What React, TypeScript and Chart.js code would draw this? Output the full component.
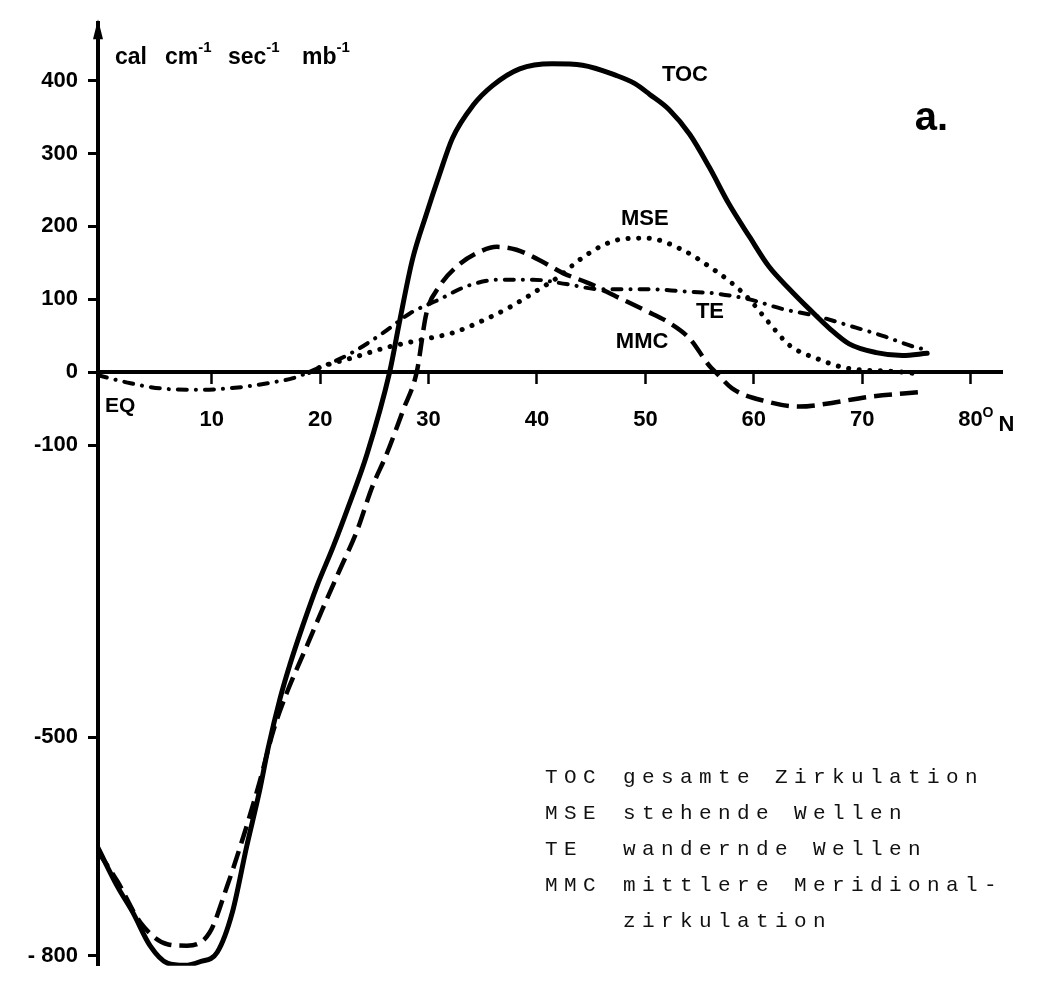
import React, { useEffect, useRef } from 'react';
import { Chart, registerables } from 'chart.js';

Chart.register(...registerables);

// ---- axis ticks ----
const xTickValues = [0, 10, 20, 30, 40, 50, 60, 70, 80];
const xTickLabels = ['', '10', '20', '30', '40', '50', '60', '70', '80'];
const yTickValues = [400, 300, 200, 100, 0, -100, -500, -800];
const yTickLabels = ['400', '300', '200', '100', '0', '-100', '-500', '- 800'];

// ---- series (latitude °N, flux) ----
const tocLat = [-0.5, 1.3, 2.7, 4.3, 5.9, 7.5, 8.9, 10.5, 11.9, 13.2, 14.4, 15.2, 16.3, 17.2, 18.4, 19.7, 21.2, 22.7, 24.3, 26.4, 27.3, 28.5, 29.8, 31.0, 32.2, 34.1, 35.9, 38.4, 41.4, 44.2, 47.3, 49.0, 50.4, 52.2, 54.1, 55.9, 57.7, 59.6, 61.4, 63.3, 65.1, 67.0, 68.8, 71.3, 73.7, 76.0];
const tocVal = [-652, -705, -740, -786, -810, -813, -808, -795, -740, -651, -574, -515, -447, -401, -347, -293, -239, -180, -113, 0, 68, 154, 217, 271, 321, 366, 393, 416, 423, 421, 407, 396, 381, 360, 326, 281, 231, 186, 145, 114, 87, 60, 39, 27, 23, 26];

const mmcLat = [-0.5, 1.3, 3.4, 5.9, 7.7, 9.8, 11.4, 12.9, 14.4, 15.7, 16.9, 18.8, 20.2, 21.8, 23.4, 24.8, 26.1, 27.7, 28.9, 29.8, 31.0, 32.6, 34.4, 36.3, 38.1, 40.2, 42.4, 44.8, 47.3, 50.1, 52.2, 54.1, 55.9, 56.5, 58.0, 61.2, 64.2, 67.2, 70.4, 75.5];
const mmcVal = [-657, -698, -754, -784, -786, -768, -705, -637, -562, -490, -440, -374, -325, -271, -217, -157, -113, -50, 0, 81, 118, 145, 163, 172, 168, 154, 136, 122, 104, 84, 68, 46, 9, 0, -22, -40, -47, -42, -34, -27];

const teLat = [-0.5, 2.5, 5.2, 8.9, 12.9, 15.5, 17.5, 19.7, 22.7, 25.8, 28.3, 31.0, 33.5, 36.5, 39.6, 42.7, 45.8, 50.4, 53.4, 56.5, 59.6, 62.6, 65.8, 68.8, 71.9, 75.0, 76.0];
const teVal = [-4, -15, -22, -24, -20, -14, -8, 5, 25, 54, 81, 100, 118, 127, 127, 121, 114, 114, 111, 108, 100, 87, 77, 64, 50, 34, 31];

const mseLat = [19.0, 20.0, 23.0, 26.1, 29.8, 32.2, 35.3, 37.7, 40.2, 42.1, 43.9, 45.8, 47.6, 50.1, 53.4, 55.9, 58.0, 59.6, 61.4, 63.3, 65.8, 68.2, 70.0, 72.0, 74.0, 75.5];
const mseVal = [0, 7, 20, 34, 46, 54, 73, 91, 114, 132, 154, 172, 182, 184, 168, 145, 122, 100, 68, 37, 19, 7, 3, 2, 0, -3];

// ---- texts ----
const seriesNames = ['TOC', 'MSE', 'TE', 'MMC'];
const legendCodes = ['TOC', 'MSE', 'TE', 'MMC', ''];
const legendTexts = ['gesamte Zirkulation', 'stehende Wellen', 'wandernde Wellen', 'mittlere Meridional-', 'zirkulation'];
const unitWords = ['cal', 'cm', 'sec', 'mb'];
const unitExponent = '-1';
const panelLabel = 'a.';
const eqLabel = 'EQ';

const toPts = (xs: number[], ys: number[]) => xs.map((x, i) => ({ x, y: ys[i] }));

const SANS = "'Liberation Sans', Arial, sans-serif";
const MONO = "'Liberation Mono', 'DejaVu Sans Mono', monospace";

const annotate = {
  id: 'annotate',
  afterDraw(chart: any) {
    const { ctx, chartArea } = chart;
    const xs = chart.scales.x;
    const ys = chart.scales.y;
    const px = (v: number) => xs.getPixelForValue(v);
    const py = (v: number) => ys.getPixelForValue(v);
    ctx.save();
    ctx.fillStyle = '#000';

    // arrow head at top of the y axis
    const ax = chartArea.left;
    ctx.beginPath();
    ctx.moveTo(ax, chartArea.top - 4);
    ctx.lineTo(ax - 5, chartArea.top + 16);
    ctx.lineTo(ax + 5, chartArea.top + 16);
    ctx.closePath();
    ctx.fill();

    // unit title: cal cm-1 sec-1 mb-1
    ctx.textBaseline = 'alphabetic';
    ctx.textAlign = 'left';
    const base = chartArea.top + 41;
    const wordX = [17, 67, 130, 204];
    unitWords.forEach((w, i) => {
      ctx.font = `bold 23px ${SANS}`;
      const x0 = ax + wordX[i];
      ctx.fillText(w, x0, base);
      if (i > 0) {
        const wd = ctx.measureText(w).width;
        ctx.font = `bold 15px ${SANS}`;
        ctx.fillText(unitExponent, x0 + wd, base - 12);
      }
    });

    // EQ and °N
    const y0 = py(0);
    ctx.font = `bold 21px ${SANS}`;
    ctx.fillText(eqLabel, ax + 7, y0 + 40);
    const p80 = px(80);
    ctx.font = `bold 14px ${SANS}`;
    ctx.fillText('O', p80 + 12, y0 + 45);
    ctx.font = `bold 22px ${SANS}`;
    ctx.fillText('N', p80 + 28, y0 + 59);

    // curve labels
    ctx.textAlign = 'center';
    ctx.textBaseline = 'middle';
    ctx.font = `bold 22px ${SANS}`;
    const labelPos = [[53.65, 407], [49.95, 210], [55.96, 83], [49.7, 42]];
    seriesNames.forEach((n, i) => {
      ctx.fillText(n, px(labelPos[i][0]), py(labelPos[i][1]));
    });

    // panel label
    ctx.textBaseline = 'alphabetic';
    ctx.font = `bold 40px ${SANS}`;
    ctx.fillText(panelLabel, px(76.4), py(332));

    // legend (typewriter)
    ctx.textAlign = 'left';
    ctx.font = `21px ${MONO}`;
    ctx.fillStyle = '#111';
    try { (ctx as any).letterSpacing = '6.4px'; } catch (e) {}
    legendCodes.forEach((c, i) => {
      const yy = 783 + i * 36;
      if (c) ctx.fillText(c, 545, yy);
      ctx.fillText(legendTexts[i], 623, yy);
    });
    try { (ctx as any).letterSpacing = '0px'; } catch (e) {}
    ctx.restore();
  },
};

export default function App() {
  const ref = useRef<HTMLCanvasElement | null>(null);
  useEffect(() => {
    if (!ref.current) return;
    const tickFont = { family: SANS, size: 22, weight: 'bold' as const };
    const chart = new Chart(ref.current, {
      type: 'line',
      data: {
        datasets: [
          {
            label: 'TOC',
            data: toPts(tocLat, tocVal),
            borderColor: '#000',
            borderWidth: 5,
            borderCapStyle: 'round',
            borderJoinStyle: 'round',
            pointRadius: 0,
            cubicInterpolationMode: 'monotone',
            fill: false,
          },
          {
            label: 'MSE',
            data: toPts(mseLat, mseVal),
            borderColor: '#000',
            borderWidth: 5,
            borderDash: [0.1, 10.5],
            borderCapStyle: 'round',
            pointRadius: 0,
            cubicInterpolationMode: 'monotone',
            fill: false,
          },
          {
            label: 'TE',
            data: toPts(teLat, teVal),
            borderColor: '#000',
            borderWidth: 4,
            borderDash: [9, 9, 0.1, 9],
            borderCapStyle: 'round',
            pointRadius: 0,
            cubicInterpolationMode: 'monotone',
            fill: false,
          },
          {
            label: 'MMC',
            data: toPts(mmcLat, mmcVal),
            borderColor: '#000',
            borderWidth: 4.5,
            borderDash: [18, 8],
            borderCapStyle: 'butt',
            pointRadius: 0,
            cubicInterpolationMode: 'monotone',
            fill: false,
          },
        ],
      },
      options: {
        responsive: false,
        animation: false,
        events: [],
        layout: { padding: { top: 14, right: 43, bottom: 22, left: 0 } },
        plugins: { legend: { display: false }, tooltip: { enabled: false }, title: { display: false } },
        scales: {
          x: {
            type: 'linear',
            min: -0.5,
            max: 82.9,
            position: { y: 0 } as any,
            afterBuildTicks: (axis: any) => {
              axis.ticks = xTickValues.map((v) => ({ value: v }));
            },
            grid: {
              drawOnChartArea: false,
              drawTicks: true,
              tickLength: 10,
              tickWidth: 2.5,
              color: '#000',
              tickColor: (c: any) => (c.tick && c.tick.value === 0 ? 'rgba(0,0,0,0)' : '#000'),
            },
            border: { display: true, color: '#000', width: 4 },
            ticks: {
              autoSkip: false,
              maxRotation: 0,
              padding: 24,
              color: '#000',
              font: tickFont,
              callback: (_v: any, i: number) => xTickLabels[i],
            },
          },
          y: {
            type: 'linear',
            min: -813.6,
            max: 478.6,
            position: 'left',
            afterFit: (axis: any) => {
              axis.width = 98;
            },
            afterBuildTicks: (axis: any) => {
              axis.ticks = yTickValues.map((v) => ({ value: v }));
            },
            grid: {
              drawOnChartArea: false,
              drawTicks: true,
              tickLength: 10,
              tickWidth: 3,
              color: '#000',
              tickColor: '#000',
            },
            border: { display: true, color: '#000', width: 4 },
            ticks: {
              autoSkip: false,
              padding: 10,
              color: '#000',
              font: tickFont,
              callback: (_v: any, i: number) => yTickLabels[i],
            },
          },
        },
      },
      plugins: [annotate],
    } as any);
    return () => chart.destroy();
  }, []);

  return (
    <div style={{ position: 'absolute', left: 0, top: 0, width: 1045, height: 989, background: '#fff' }}>
      <canvas ref={ref} width={1045} height={989} style={{ display: 'block' }} />
    </div>
  );
}
